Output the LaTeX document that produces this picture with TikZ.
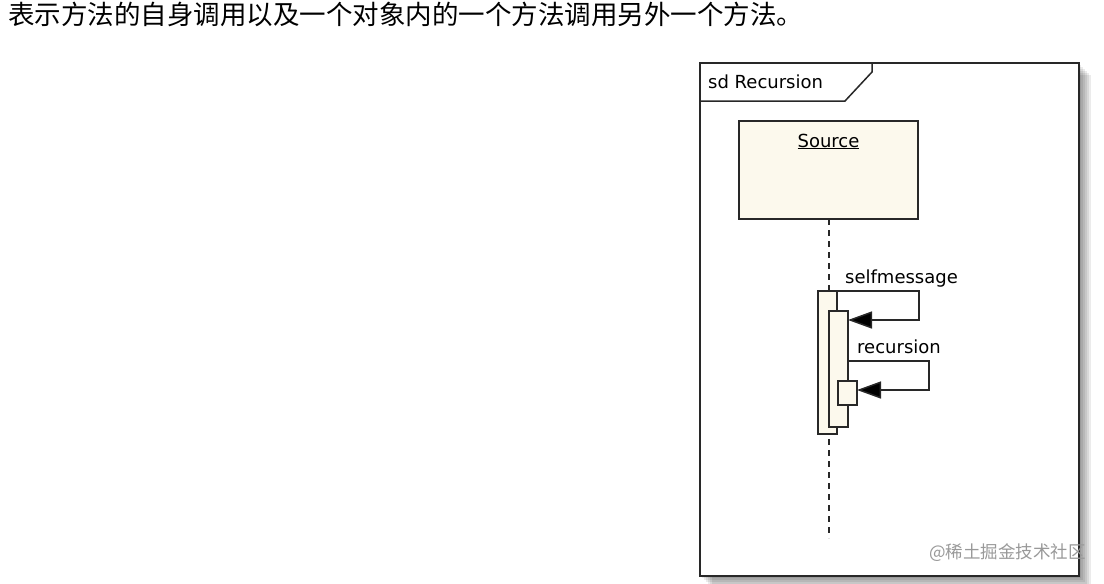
\documentclass[tikz,border=0pt]{standalone}
\usepackage{fontspec}
\setmainfont{DejaVu Sans}
\newfontfamily\cjk{Noto Sans CJK SC}
\usetikzlibrary{arrows.meta}

\definecolor{lifefill}{RGB}{252,249,237}
\definecolor{umlline}{RGB}{40,40,40}

\begin{document}
\begin{tikzpicture}[
x=1pt,y=-1pt,
umlbox/.style={
  draw=umlline,
  line width=1.5pt,
  fill=lifefill,
  inner sep=0pt,
  outer sep=0pt
  },
bar/.style={umlbox,minimum width=19pt},
msg/.style={draw=umlline,line width=1.5pt,-{Triangle[length=24pt,width=17pt,fill=black]}},
lifeline/.style={draw=umlline,line width=2.5pt,dash pattern=on 6pt off 5pt},
umltext/.style={font=\fontsize{18}{18}\selectfont,inner sep=0pt}
]
\useasboundingbox (0,0) rectangle (1104,584);
\fill[white] (0,0) rectangle (1104,584);
\node[anchor=west,inner sep=0pt,font=\cjk\fontsize{26.5}{26.5}\selectfont] (caption) at (8,14) {表示方法的自身调用以及一个对象内的一个方法调用另外一个方法。};
% frame and its shadow
\foreach \s in {2,4,...,12}
  \fill[black,opacity=0.08] (700+\s,63+\s) rectangle (1079+\s,576+\s);
\node[draw=umlline,line width=2pt,fill=white,inner sep=0pt,outer sep=0pt,
  minimum width=379pt,minimum height=513pt,anchor=north west] (frame) at (700,63) {};
\draw[umlline,line width=1.5pt] ([yshift=-38pt]frame.north west) -- ++(145,0) -- ++(27,-29) -- ++(0,-9);
\node[umltext,anchor=base west] (title) at (708,88) {sd Recursion};
% lifeline
\node[umlbox,minimum width=179pt,minimum height=98pt,anchor=north west] (source) at (739,121) {};
\node[umltext,anchor=base] (sourcename) at ([yshift=-26pt]source.north) {\underline{Source}};
\coordinate (lifeend) at (829,538);
\draw[lifeline] (source.south -| lifeend) -- (lifeend);
\foreach \Name/\X/\Y/\H in {a1/827.5/362.5/143,a2/838.5/369/116,a3/847.5/393/24}
  \node[bar,minimum height=\H pt] (\Name) at (\X,\Y) {};
% messages
\draw[msg] (a1.north east) -- ++(82,0) |- ([yshift=-9pt]a2.north east);
\draw[msg] ([yshift=-50pt]a2.north east) -- ++(81,0) |- ([yshift=3pt]a3.east);
\node[umltext,anchor=base west] (selflabel) at ([xshift=8pt,yshift=8pt]a1.north east) {selfmessage};
\node[umltext,anchor=base west] (reclabel) at ([xshift=9pt,yshift=-42pt]a2.north east) {recursion};
\node[anchor=east,inner sep=0pt,text=black!40,font=\cjk\fontsize{17.5}{17.5}\selectfont] (watermark) at (1086,553) {@稀土掘金技术社区};
\end{tikzpicture}
\end{document}
